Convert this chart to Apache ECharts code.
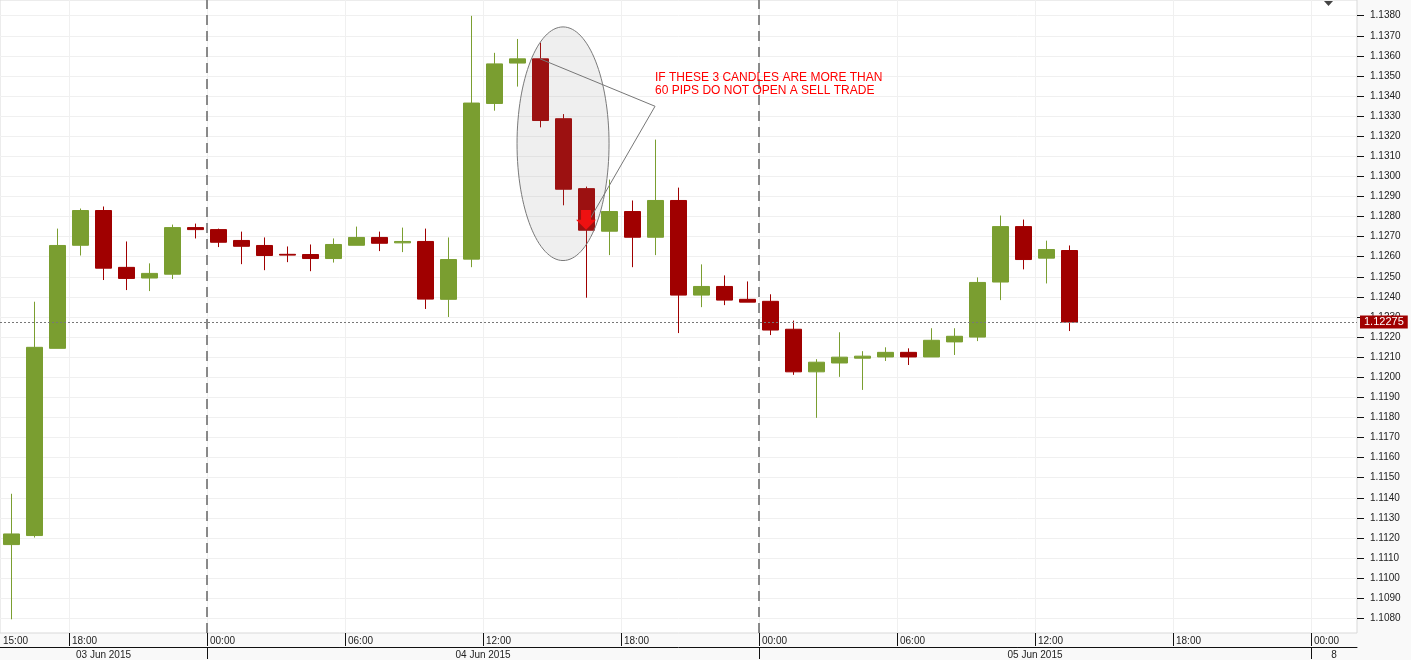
<!DOCTYPE html>
<html><head><meta charset="utf-8">
<script src="https://cdn.jsdelivr.net/npm/echarts@6/dist/echarts.min.js"></script>
<style>html,body{margin:0;padding:0;background:#f9f9f9}#c{width:1411px;height:660px}</style>
</head><body><div id="c"></div>
<script>
// ---- data ----
const times = ['03 Jun 15:00','03 Jun 16:00','03 Jun 17:00','03 Jun 18:00','03 Jun 19:00','03 Jun 20:00','03 Jun 21:00','03 Jun 22:00','03 Jun 23:00',
  '04 Jun 00:00','04 Jun 01:00','04 Jun 02:00','04 Jun 03:00','04 Jun 04:00','04 Jun 05:00','04 Jun 06:00','04 Jun 07:00','04 Jun 08:00','04 Jun 09:00','04 Jun 10:00','04 Jun 11:00','04 Jun 12:00','04 Jun 13:00','04 Jun 14:00','04 Jun 15:00','04 Jun 16:00','04 Jun 17:00','04 Jun 18:00','04 Jun 19:00','04 Jun 20:00','04 Jun 21:00','04 Jun 22:00','04 Jun 23:00',
  '05 Jun 00:00','05 Jun 01:00','05 Jun 02:00','05 Jun 03:00','05 Jun 04:00','05 Jun 05:00','05 Jun 06:00','05 Jun 07:00','05 Jun 08:00','05 Jun 09:00','05 Jun 10:00','05 Jun 11:00','05 Jun 12:00','05 Jun 13:00'];
const futureSlots = ['05 Jun 14:00','05 Jun 15:00','05 Jun 16:00','05 Jun 17:00','05 Jun 18:00','05 Jun 19:00','05 Jun 20:00','05 Jun 21:00','05 Jun 22:00','05 Jun 23:00','08 Jun 00:00','08 Jun 01:00'];
const opens  = [1.11167,1.11212,1.12144,1.12657,1.12830,1.12547,1.12494,1.12513,1.12745,
  1.12735,1.12681,1.12656,1.12612,1.12611,1.12591,1.12657,1.12696,1.12669,1.12676,1.12388,1.12588,1.13363,1.13564,1.13585,1.13287,1.12939,1.12727,1.12825,1.12697,1.12880,1.12409,1.12452,1.12388,
  1.12378,1.12239,1.12027,1.12071,1.12095,1.12101,1.12124,1.12101,1.12176,1.12200,1.12474,1.12750,1.12593,1.12631];
const closes = [1.11220,1.12149,1.12656,1.12830,1.12543,1.12492,1.12517,1.12745,1.12735,
  1.12672,1.12652,1.12606,1.12608,1.12591,1.12661,1.12696,1.12667,1.12676,1.12389,1.12586,1.13365,1.13560,1.13585,1.13278,1.12936,1.12732,1.12825,1.12697,1.12880,1.12409,1.12452,1.12384,1.12374,
  1.12235,1.12027,1.12075,1.12100,1.12105,1.12124,1.12101,1.12184,1.12204,1.12472,1.12750,1.12586,1.12636,1.12275];
const lows   = [1.10795,1.11202,1.12144,1.12606,1.12484,1.12434,1.12429,1.12489,1.12691,
  1.12648,1.12563,1.12533,1.12573,1.12528,1.12571,1.12657,1.12628,1.12623,1.12340,1.12300,1.12548,1.13327,1.13447,1.13244,1.12856,1.12396,1.12608,1.12548,1.12608,1.12220,1.12349,1.12359,1.12374,
  1.12210,1.12012,1.11798,1.12002,1.11937,1.12081,1.12061,1.12101,1.12111,1.12180,1.12384,1.12537,1.12467,1.12230];
const highs  = [1.11420,1.12376,1.12740,1.12840,1.12850,1.12676,1.12567,1.12760,1.12765,
  1.12740,1.12725,1.12696,1.12651,1.12661,1.12691,1.12750,1.12725,1.12745,1.12740,1.12696,1.13799,1.13615,1.13684,1.13666,1.13310,1.12949,1.12984,1.12880,1.13183,1.12944,1.12562,1.12507,1.12477,
  1.12413,1.12282,1.12090,1.12224,1.12130,1.12149,1.12144,1.12244,1.12244,1.12497,1.12805,1.12785,1.12680,1.12656];
const lastPrice = 1.12275;
const priceTicks = [1.108,1.109,1.110,1.111,1.112,1.113,1.114,1.115,1.116,1.117,1.118,1.119,1.120,1.121,1.122,1.123,1.124,1.125,1.126,1.127,1.128,1.129,1.130,1.131,1.132,1.133,1.134,1.135,1.136,1.137,1.138];
const timeTickPos  = [0,3,9,15,21,27,33,39,45,51,57];
const timeTickText = ['15:00','18:00','00:00','06:00','12:00','18:00','00:00','06:00','12:00','18:00','00:00'];
const dateLabelPos  = [4.5,21,45,58];
const dateLabelText = ['03 Jun 2015','04 Jun 2015','05 Jun 2015','8'];
const daySeparators = [9,33,57];
const midnightLines = [9,33];
const noteLines = ['IF THESE 3 CANDLES ARE MORE THAN','60 PIPS DO NOT OPEN A SELL TRADE'];
// annotation anchors (slot units, price)
const ellipseBox = {x0:22.48, x1:26.48, yTop:1.13744, yBottom:1.12581};
const calloutPts = [[23.48,1.13585],[28.48,1.13349],[25.43,1.12744]];
const noteAnchor = [28.48,1.13522];
const arrowAnchor = {x:25.48, top:1.12833, base:1.12784, tip:1.12734};

const slotCount = times.length + futureSlots.length;
const yMin = 1.107269, yMax = 1.13878;
const FONT = '"Liberation Sans", Arial, sans-serif';

const chart = echarts.init(document.getElementById('c'));
const candleData = opens.map((o,i)=>[o, closes[i], lows[i], highs[i]]);

chart.setOption({
  backgroundColor:'#f9f9f9',
  animation:false,
  grid:{left:0, right:54, top:0, bottom:26, show:true, backgroundColor:'#ffffff', borderColor:'#d9d9d9', borderWidth:1},
  xAxis:[
    {type:'category', data:times.concat(futureSlots), boundaryGap:true,
     axisLine:{show:false, onZero:false}, axisTick:{show:false}, axisLabel:{show:false}, splitLine:{show:false}},
    {type:'value', min:0, max:slotCount, position:'bottom',
     axisLine:{show:false, onZero:false},
     axisTick:{show:true, customValues:timeTickPos.slice(1), length:13, lineStyle:{color:'#111'}},
     axisLabel:{show:true, customValues:timeTickPos, align:'left', padding:[0,0,0,3], margin:3, fontSize:10, fontFamily:FONT, color:'#222',
       formatter:v=>{const i=timeTickPos.indexOf(v); return i>=0?timeTickText[i]:'';}},
     splitLine:{show:true, lineStyle:{color:'#f0f0f0'}}},
    {type:'value', min:0, max:slotCount, position:'bottom', offset:14,
     axisLine:{show:true, onZero:false, lineStyle:{color:'#111'}},
     axisTick:{show:true, customValues:daySeparators, length:12, lineStyle:{color:'#111'}},
     axisLabel:{show:true, customValues:dateLabelPos, margin:3, fontSize:10, fontFamily:FONT, color:'#222',
       formatter:v=>{const i=dateLabelPos.indexOf(v); return i>=0?dateLabelText[i]:'';}},
     splitLine:{show:false}}
  ],
  yAxis:[{type:'value', position:'right', min:yMin, max:yMax,
    axisLine:{show:false, onZero:false},
    axisTick:{show:true, customValues:priceTicks, length:7, lineStyle:{color:'#111'}},
    axisLabel:{show:true, customValues:priceTicks, margin:13, fontSize:10, fontFamily:FONT, color:'#222', formatter:v=>v.toFixed(4)},
    splitLine:{show:true, lineStyle:{color:'#f0f0f0'}}}],
  series:[
    {type:'candlestick', xAxisIndex:0, yAxisIndex:0, data:candleData, barWidth:16,
     itemStyle:{color:'#7a9e30', color0:'#a00000', borderColor:'#7a9e30', borderColor0:'#a00000', borderWidth:1}},
    {type:'line', xAxisIndex:1, yAxisIndex:0, data:[[0,null]], symbol:'none', lineStyle:{opacity:0},
     markLine:{silent:true, symbol:['none','none'], label:{show:false},
       lineStyle:{color:'#666', type:[10,6], width:1.5},
       data:midnightLines.map(v=>({xAxis:v}))}},
    {type:'line', xAxisIndex:1, yAxisIndex:0, data:[[0,null]], symbol:'none', lineStyle:{opacity:0},
     markLine:{silent:true, precision:5, symbol:['none','none'],
       lineStyle:{color:'#777', type:[2,2], width:1},
       label:{show:true, position:'end', distance:3, formatter:lastPrice.toFixed(5), backgroundColor:'#a00000', color:'#fff',
         fontSize:11, fontFamily:FONT, padding:[1,4,0,4], lineHeight:12},
       data:[{yAxis:lastPrice}]}}
  ]
});

const px = x => chart.convertToPixel({xAxisIndex:1}, x);
const py = y => chart.convertToPixel({yAxisIndex:0}, y);
const ex0=px(ellipseBox.x0), ex1=px(ellipseBox.x1), ey0=py(ellipseBox.yTop), ey1=py(ellipseBox.yBottom);
const ax=px(arrowAnchor.x), aTop=py(arrowAnchor.top), aBase=py(arrowAnchor.base), aTip=py(arrowAnchor.tip);
chart.setOption({graphic:[
  {type:'ellipse', z:100, shape:{cx:(ex0+ex1)/2, cy:(ey0+ey1)/2, rx:(ex1-ex0)/2, ry:(ey1-ey0)/2},
   style:{fill:'rgba(128,128,128,0.13)', stroke:'#7a7a7a', lineWidth:1}},
  {type:'polyline', z:101, shape:{points:calloutPts.map(p=>[px(p[0]),py(p[1])])}, style:{stroke:'#777', lineWidth:1, fill:null}},
  {type:'polygon', z:102, shape:{points:[[ax-5,aTop],[ax+5,aTop],[ax+5,aBase],[ax+10,aBase],[ax,aTip],[ax-10,aBase],[ax-5,aBase]]},
   style:{fill:'#ee1111'}},
  {type:'text', z:103, x:px(noteAnchor[0]), y:py(noteAnchor[1]),
   style:{text:noteLines.join('\n'), fill:'#ff0000', font:'12px '+FONT, lineHeight:13}},
  {type:'polygon', z:103, shape:{points:[[1324,1],[1333,1],[1328.5,6]]}, style:{fill:'#444'}}
]});
</script></body></html>
